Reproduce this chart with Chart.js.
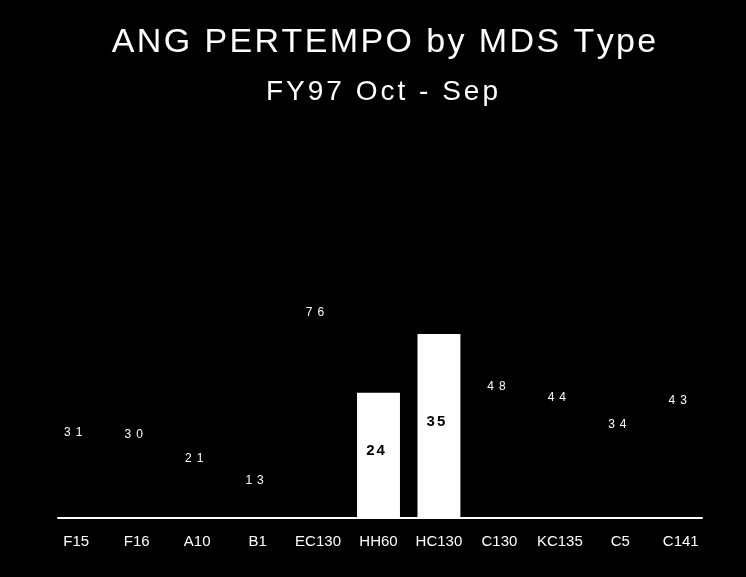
<!DOCTYPE html>
<html>
<head>
<meta charset="utf-8">
<title>ANG PERTEMPO by MDS Type</title>
<script src="https://cdn.jsdelivr.net/npm/chart.js@4.4.1/dist/chart.umd.min.js"></script>
<style>
    html, body { margin: 0; padding: 0; background: #000; }
    #wrap { width: 746px; height: 577px; }
</style>
</head>
<body>
<div id="wrap"><canvas id="pertempoChart"></canvas></div>
<script>
// Chart data
const categories = ['F15', 'F16', 'A10', 'B1', 'EC130', 'HH60', 'HC130', 'C130', 'KC135', 'C5', 'C141'];
const valueLabels = [31, 30, 21, 13, 76, 24, 35, 48, 44, 34, 43];
const whiteBars = [null, null, null, null, null, 47, 69, null, null, null, null];
const chartTitle = 'ANG PERTEMPO by MDS Type';
const chartSubtitle = 'FY97 Oct - Sep';

const FONT = '"Liberation Sans", Arial, sans-serif';

// draw text one letter at a time so the letters can be spaced out
function drawSpaced(ctx, text, cx, y, spacing) {
    const chars = [...text];
    const widths = chars.map(ch => ctx.measureText(ch).width);
    const total = widths.reduce((a, b) => a + b, 0) + spacing * (chars.length - 1);
    let x = cx - total / 2;
    ctx.textAlign = 'left';
    chars.forEach((ch, i) => {
        ctx.fillText(ch, x, y);
        x += widths[i] + spacing;
    });
}

const pertempoPlugin = {
    id: 'pertempo',
    beforeDraw(chart) {
        const ctx = chart.ctx;
        ctx.save();
        ctx.fillStyle = '#000';
        ctx.fillRect(0, 0, chart.width, chart.height);
        ctx.restore();
    },
    afterDatasetsDraw(chart) {
        const ctx = chart.ctx;
        const xs = chart.scales.x;
        const ys = chart.scales.y;
        ctx.save();

        // baseline
        ctx.strokeStyle = '#fff';
        ctx.lineWidth = 2;
        ctx.beginPath();
        ctx.moveTo(xs.getPixelForValue(0) - 19, ys.getPixelForValue(0));
        ctx.lineTo(xs.getPixelForValue(categories.length - 1) + 22, ys.getPixelForValue(0));
        ctx.stroke();

        // value labels
        ctx.textBaseline = 'middle';
        valueLabels.forEach((v, i) => {
            const px = xs.getPixelForValue(i) - 3;
            const py = ys.getPixelForValue(v) - 3;
            if (whiteBars[i] !== null) {
                ctx.fillStyle = '#000';
                ctx.font = 'bold 15px ' + FONT;
                drawSpaced(ctx, String(v), px, py, 2);
            } else {
                ctx.fillStyle = '#fff';
                ctx.font = '12px ' + FONT;
                drawSpaced(ctx, String(v), px, py, 5);
            }
        });

        // titles
        ctx.textBaseline = 'alphabetic';
        ctx.fillStyle = '#fff';
        ctx.font = '34px ' + FONT;
        drawSpaced(ctx, chartTitle, 384, 52, 2.4);
        ctx.font = '28px ' + FONT;
        drawSpaced(ctx, chartSubtitle, 382, 100, 3);

        ctx.restore();
    }
};

new Chart(document.getElementById('pertempoChart'), {
    type: 'bar',
    data: {
        labels: categories,
        datasets: [{
            data: whiteBars,
            backgroundColor: '#fff',
            borderWidth: 0,
            barPercentage: 0.71,
            categoryPercentage: 1
        }]
    },
    options: {
        responsive: true,
        maintainAspectRatio: false,
        animation: false,
        layout: {
            padding: { top: 118, left: 46, right: 35, bottom: 12 }
        },
        plugins: {
            legend: { display: false },
            tooltip: { enabled: false }
        },
        scales: {
            x: {
                grid: { display: false, drawTicks: false },
                border: { display: false },
                ticks: {
                    color: '#fff',
                    font: { size: 15, family: FONT },
                    padding: 14.5,
                    maxRotation: 0,
                    autoSkip: false
                }
            },
            y: {
                display: false,
                min: 0,
                max: 150
            }
        }
    },
    plugins: [pertempoPlugin]
});
</script>
</body>
</html>
